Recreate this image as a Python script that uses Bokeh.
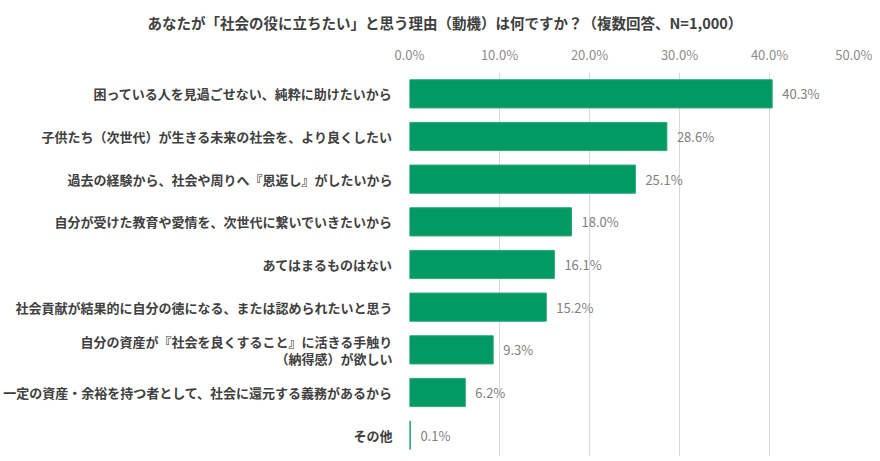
import bokeh.models
import bokeh.plotting
from bokeh.core.properties import value
from bokeh.embed import file_html
from bokeh.resources import INLINE

FONT = "Noto Sans CJK JP"

title = "あなたが「社会の役に立ちたい」と思う理由（動機）は何ですか？（複数回答、N=1,000）"

reasons = [
    "困っている人を見過ごせない、純粋に助けたいから",
    "子供たち（次世代）が生きる未来の社会を、より良くしたい",
    "過去の経験から、社会や周りへ『恩返し』がしたいから",
    "自分が受けた教育や愛情を、次世代に繋いでいきたいから",
    "あてはまるものはない",
    "社会貢献が結果的に自分の徳になる、または認められたいと思う",
    "自分の資産が『社会を良くすること』に活きる手触り\n（納得感）が欲しい",
    "一定の資産・余裕を持つ者として、社会に還元する義務があるから",
    "その他",
]
shares = [40.3, 28.6, 25.1, 18.0, 16.1, 15.2, 9.3, 6.2, 0.1]
x_ticks = [0, 10, 20, 30, 40, 50]

source = bokeh.models.ColumnDataSource(dict(
    reason=reasons,
    share=shares,
    label=[f"{s:.1f}%" for s in shares],
))

p = bokeh.plotting.figure(
    y_range=list(reversed(reasons)),
    x_range=(0, 50),
    frame_width=450, frame_height=384,
    min_border_left=401, min_border_right=13,
    min_border_top=65, min_border_bottom=0,
    x_axis_location="above",
    toolbar_location=None,
    output_backend="svg",
)

p.title.text = title
p.title.align = "left"
p.title.offset = -262
p.title.text_font = FONT
p.title.text_font_size = "14.5px"
p.title.text_font_style = "bold"
p.title.text_color = "#404040"
p.title.standoff = 18

p.hbar(y="reason", right="share", left=0, height=0.66, source=source,
       fill_color="#009a62", line_color="#2aa876", line_width=1)

p.text(x="share", y="reason", text="label", source=source,
       x_offset=10, text_baseline="middle", text_align="left",
       text_font=value(FONT), text_font_size="13px", text_color="#808080")

p.xaxis.ticker = x_ticks
p.xaxis.major_label_overrides = {t: f"{t:.1f}%" for t in x_ticks}
p.xaxis.axis_line_color = None
p.xaxis.major_tick_line_color = None
p.xaxis.minor_tick_line_color = None
p.xaxis.major_label_standoff = 3
p.xaxis.major_label_text_font = FONT
p.xaxis.major_label_text_font_size = "13px"
p.xaxis.major_label_text_color = "#8c8c8c"

p.yaxis.axis_line_color = None
p.yaxis.major_tick_line_color = None
p.yaxis.major_label_standoff = 11
p.yaxis.major_label_text_font = FONT
p.yaxis.major_label_text_font_size = "13px"
p.yaxis.major_label_text_font_style = "bold"
p.yaxis.major_label_text_color = "#404040"
p.yaxis.major_label_text_line_height = 0.9

p.xgrid.grid_line_color = "#d9d9d9"
p.ygrid.grid_line_color = None
p.outline_line_color = None

open("out.html", "w").write(file_html(p, INLINE))
